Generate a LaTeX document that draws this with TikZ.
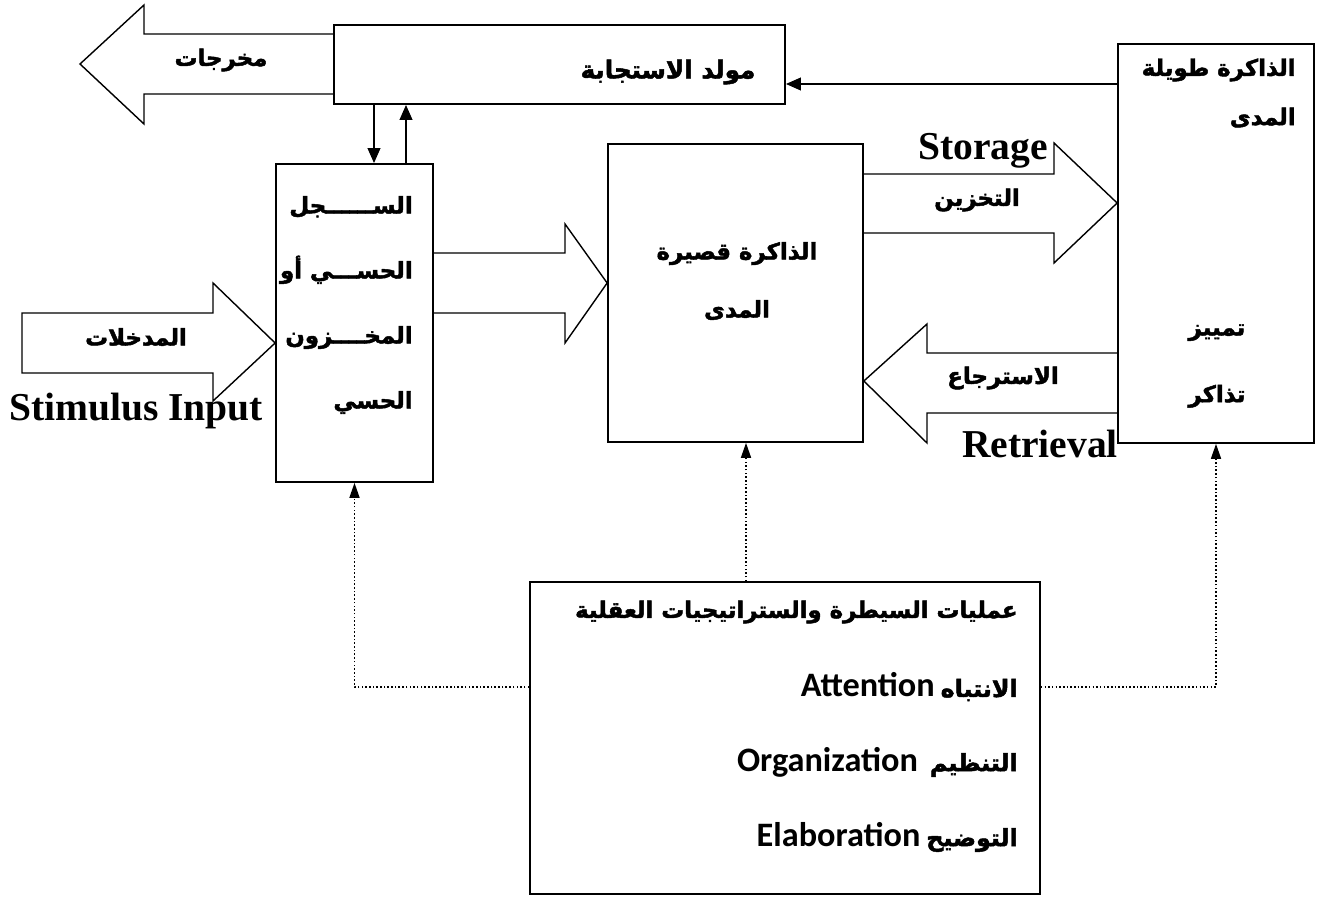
\documentclass[tikz,border=0pt]{standalone}
\usepackage{fontspec}
\setmainfont{Liberation Serif}
\newfontfamily\arabicfont[Script=Arabic, BoldFeatures={FakeBold=2}]{DejaVu Sans}
\newfontfamily\calfont{Carlito}
\TeXXeTstate=1
\newcommand{\artxt}[1]{{\arabicfont\bfseries\beginR #1\endR}}
\newcommand{\entxt}[1]{{\calfont\bfseries\fontsize{19.5}{22}\selectfont #1}}
\usetikzlibrary{arrows.meta, positioning}
\tikzstyle{box} = [draw, rectangle, line width=1pt, inner sep=0pt]
\tikzstyle{block} = [draw, line width=0.8pt, line join=miter]
\tikzstyle{link} = [line width=1.3pt, -{Triangle[length=0.3cm, width=0.25cm]}]
\tikzstyle{dots} = [line width=0.9pt, dash pattern=on 0.9pt off 1.2pt, -{Triangle[length=0.3cm, width=0.2cm]}]
\tikzstyle{artext} = [inner sep=0pt, font=\fontsize{13}{16}\selectfont]
\tikzstyle{entext} = [inner sep=0pt, font=\bfseries\fontsize{22.5}{27}\selectfont]
\tikzstyle{ctext} = [inner sep=0pt, anchor=east, font=\fontsize{13.5}{16}\selectfont]

\begin{document}
\begin{tikzpicture}[x=0.02cm, y=-0.02cm]
\useasboundingbox (0,0) rectangle (1317,898);

% the boxes
\node (Response) [box, minimum width=9.02cm, minimum height=1.58cm] at (559.5,64.5) {};
\node (Sensory) [box, minimum width=3.14cm, minimum height=6.36cm] at (354.5,323) {};
\node (ShortTerm) [box, minimum width=5.1cm, minimum height=5.96cm] at (735.5,293) {};
\node (LongTerm) [box, minimum width=3.92cm, minimum height=7.98cm] at (1216,243.5) {};
\node (Control) [box, minimum width=10.2cm, minimum height=6.24cm] at (785,738) {};

\node (ResponseText) [artext, font=\fontsize{14}{17}\selectfont] at (668,72) {\artxt{مولد الاستجابة}};
\node (SensoryText) [artext, align=right, anchor=east, font=\fontsize{13}{37}\selectfont] at (413,305)
  {\artxt{الســــــجل}\\ \artxt{الحســـي أو}\\ \artxt{المخــــزون}\\ \artxt{الحسي}};
\node (ShortTermText) [artext, align=center, font=\fontsize{13}{33}\selectfont] at (737,281)
  {\artxt{الذاكرة قصيرة}\\ \artxt{المدى}};
\node (LongTermTop) [artext, align=right, anchor=east, font=\fontsize{13}{28}\selectfont] at (1296,93)
  {\artxt{الذاكرة طويلة}\\ \artxt{المدى}};
\node (LongTermMid) [artext, align=center, font=\fontsize{13}{38}\selectfont] at (1217,366)
  {\artxt{تمييز}\\ \artxt{تذاكر}};

% outputs
\draw [block] (Response.west |- 0,34) -- (144,34) -- (144,5) -- (80,64) -- (144,124) -- (144,94) -- (Response.west |- 0,94);
\node (Outputs) [artext] at (221,60) {\artxt{مخرجات}};

% stimulus input
\draw [block] (22,313) -- (213,313) -- (213,283) -- (Sensory.west |- 0,343) -- (213,401) -- (213,373) -- (22,373) -- cycle;
\node (Inputs) [artext] at (136,337) {\artxt{المدخلات}};
\node (StimulusLabel) [entext, anchor=base] at (136,420) {Stimulus Input};

% sensory register to short term
\draw [block] (Sensory.east |- 0,253) -- (565,253) -- (565,224) -- (ShortTerm.west |- 0,283) -- (565,343) -- (565,313) -- (Sensory.east |- 0,313);

% storage
\draw [block] (ShortTerm.east |- 0,174) -- (1054,174) -- (1054,143) -- (LongTerm.west |- 0,203) -- (1054,263) -- (1054,233) -- (ShortTerm.east |- 0,233);
\node (StorageLabel) [entext, anchor=base] at (983,160) {Storage};
\node (StorageAr) [artext] at (977,200) {\artxt{التخزين}};

% retrieval
\draw [block] (LongTerm.west |- 0,353) -- (927,353) -- (927,324) -- (ShortTerm.east |- 0,381) -- (927,443) -- (927,413) -- (LongTerm.west |- 0,413);
\node (RetrievalAr) [artext] at (1003,378) {\artxt{الاسترجاع}};
\node (RetrievalLabel) [entext, anchor=base] at (1040,457) {Retrieval};

% response generator links
\draw [link] (Response.south -| 374,0) -- (Sensory.north -| 374,0);
\draw [link] (Sensory.north -| 406,0) -- (Response.south -| 406,0);
\draw [link] (LongTerm.west |- 0,84) -- (Response.east |- 0,84);

% control processes
\node (ControlTitle) [ctext, font=\fontsize{13}{16}\selectfont] at (1018,612) {\artxt{عمليات السيطرة والستراتيجيات العقلية}};
\node (Attention) [ctext] at (1018,687) {\entxt{Attention} \artxt{الانتباه}};
\node (Organization) [ctext] at (1018,762) {\entxt{Organization}\ \ \artxt{التنظيم}};
\node (Elaboration) [ctext] at (1018,837) {\entxt{Elaboration} \artxt{التوضيح}};

\draw [dots] (Control.west |- 0,687) -| (Sensory.south);
\draw [dots] (Control.north -| 746,0) -- (ShortTerm.south -| 746,0);
\draw [dots] (Control.east |- 0,687) -| (LongTerm.south);
\end{tikzpicture}
\end{document}
